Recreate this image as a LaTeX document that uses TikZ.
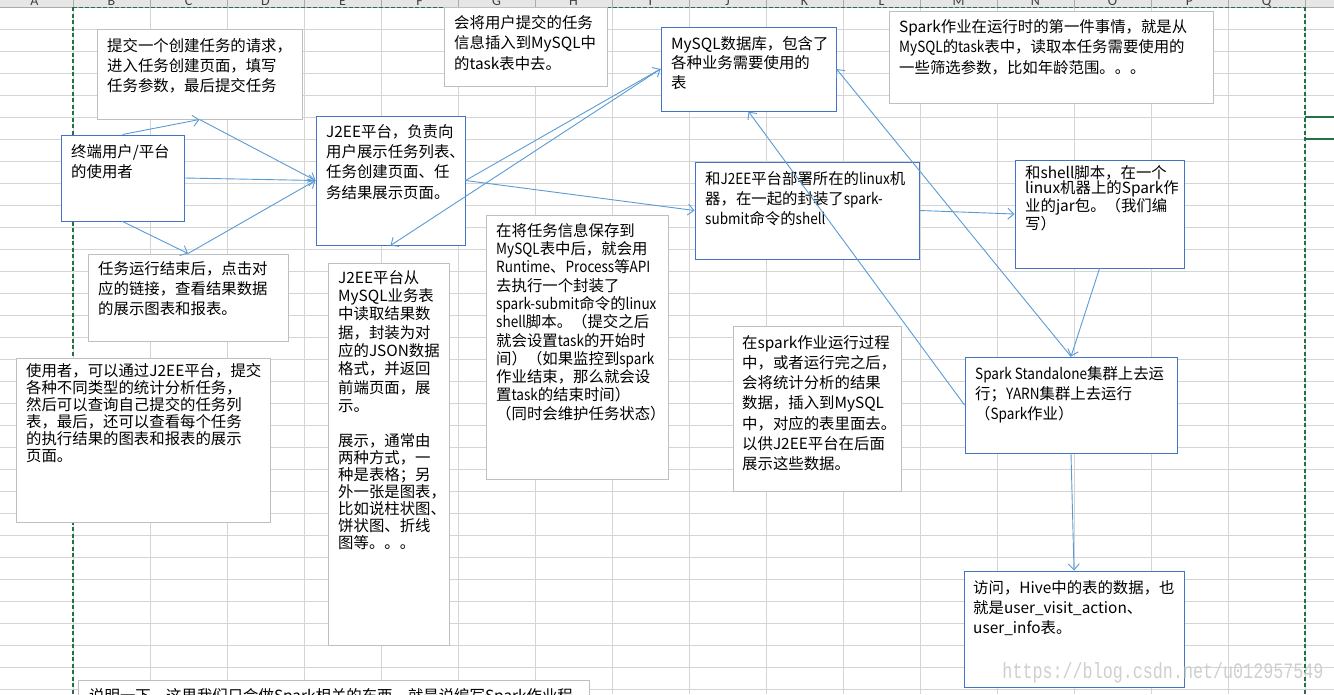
\documentclass[tikz,border=0pt]{standalone}
\usepackage{fontspec}
\usepackage{graphicx}
\setmainfont{Noto Sans CJK SC}
\newfontfamily\hdrfont{Carlito}
\newfontfamily\wmfont{Liberation Mono}
\usetikzlibrary{arrows.meta,calc}
\definecolor{gridc}{HTML}{D4D4D4}
\definecolor{hdrfill}{HTML}{E6E6E6}
\definecolor{hdrline}{HTML}{ABABAB}
\definecolor{xlgreen}{HTML}{217346}
\definecolor{boxgray}{HTML}{BFBFBF}
\definecolor{boxblue}{HTML}{4472C4}
\definecolor{arrowblue}{HTML}{5B9BD5}
\definecolor{wmgray}{HTML}{CFCFCF}
\newcommand\tlstrut{\rule{0pt}{14pt}}
\newcommand\lat[1]{\scalebox{0.88}[1]{#1}}
\begin{document}
\begin{tikzpicture}[x=1pt,y=-1pt,
  graybox/.style={draw=boxgray, line width=1pt, fill=white, rectangle, inner sep=0pt},
  bluebox/.style={draw=boxblue, line width=1pt, fill=white, rectangle, inner sep=0pt},
  txt/.style={anchor=north west, inner sep=0pt, align=left, text=black, font=\fontsize{15.4}{#1}\selectfont},
  conn/.style={draw=arrowblue, line width=0.9pt, -{Straight Barb[length=6pt,width=11pt]}},
  hdr/.style={anchor=base, inner sep=0pt, text=black!75, font=\hdrfont\fontsize{14}{14}\selectfont},
  xldash/.style={draw=xlgreen, line width=1.6pt, dash pattern=on 4pt off 2.5pt},
]
\useasboundingbox (0,0) rectangle (1334,694);
\clip (0,0) rectangle (1334,694);
\fill[white] (0,0) rectangle (1334,694);
% grid
\foreach \x in {-4,73,...,1382} \draw[gridc, line width=1pt] (\x,7) -- (\x,694);
\foreach \y in {7,29,...,689} \draw[gridc, line width=1pt] (0,\y) -- (1334,\y);
% header
\fill[hdrfill] (0,0) rectangle (1334,7);
\foreach \x in {-4,73,...,1382} \draw[hdrline, line width=1pt] (\x,0) -- (\x,7);
\draw[hdrline, line width=1pt] (0,7) -- (1334,7);
\foreach \l [count=\i from 0] in {A,B,C,D,E,F,G,H,I,J,K,L,M,N,O,P,Q,R}
  \node[hdr] (h\l) at (34.5+77*\i,5) {\l};
% page-break lines
\draw[xldash] (73,7) -- (73,694);
\draw[xldash] (1305,7) -- (1305,694);
\draw[draw=xlgreen, line width=1.1pt, dash pattern=on 4pt off 2pt] (73,7.5) -- (1305,7.5);
\draw[xlgreen, line width=1.6pt] (1305,117) -- (1334,117);
\draw[xlgreen, line width=1.6pt] (1305,139) -- (1334,139);

% boxes
\node[graybox, minimum width=205pt, minimum height=90pt] (b1) at (199.5,74) {};
\node[bluebox, minimum width=123pt, minimum height=86pt] (user) at (122.5,178) {};
\node[bluebox, minimum width=149pt, minimum height=129pt] (j2ee) at (390.5,180.5) {};
\node[graybox, minimum width=163pt, minimum height=79pt] (b4) at (525.5,46.5) {};
\node[bluebox, minimum width=175pt, minimum height=84pt] (mysql) at (748.5,69) {};
\node[graybox, minimum width=324pt, minimum height=92pt] (b6) at (1051,57) {};
\node[bluebox, minimum width=224pt, minimum height=97pt] (linux) at (807,210.5) {};
\node[bluebox, minimum width=169pt, minimum height=108pt] (shell) at (1099.5,214) {};
\node[graybox, minimum width=200pt, minimum height=87pt] (b9) at (188,297.5) {};
\node[graybox, minimum width=254pt, minimum height=164pt] (b10) at (143,440) {};
\node[graybox, minimum width=121pt, minimum height=382pt] (b11) at (388.5,454) {};
\node[graybox, minimum width=182pt, minimum height=264pt] (b12) at (577,347) {};
\node[graybox, minimum width=168pt, minimum height=165pt] (b13) at (817,408.5) {};
\node[bluebox, minimum width=212pt, minimum height=96pt] (spark) at (1071,405) {};
\node[bluebox, minimum width=220pt, minimum height=116pt] (hive) at (1074,629) {};
\node[graybox, minimum width=511pt, minimum height=40pt] (b16) at (333.5,700) {};

% texts
\node[txt=20] (t1) at (107,37) {\tlstrut 提交一个创建任务的请求，\\进入任务创建页面，填写\\任务参数，最后提交任务};
\node[txt=20] (tuser) at (71,143) {\tlstrut 终端用户/平台\\的使用者};
\node[txt=20.3] (tj2ee) at (326,123) {\tlstrut J2EE平台，负责向\\用户展示任务列表、\\任务创建页面、任\\务结果展示页面。};
\node[txt=20.5] (t4) at (454,14) {\tlstrut 会将用户提交的任务\\信息插入到MySQL中\\的task表中去。};
\node[txt=19.5] (tmysql) at (671,35) {\tlstrut MySQL数据库，包含了\\各种业务需要使用的\\表};
\node[txt=20.5] (t6) at (899,18) {\tlstrut Spark作业在运行时的第一件事情，就是从\\\lat{MySQL}的\lat{task}表中，读取本任务需要使用的\\一些筛选参数，比如年龄范围。。。};
\node[txt=20] (tlinux) at (705,170) {\tlstrut 和\lat{J2EE}平台部署所在的\lat{linux}机\\器，在一起的封装了\lat{spark-}\\\lat{submit}命令的\lat{shell}};
\node[txt=15.5] (tshell) at (1025,164) {\tlstrut 和shell脚本，在一个\\linux机器上的Spark作\\业的jar包。（我们编\\写）};
\node[txt=20] (t9) at (98,260) {\tlstrut 任务运行结束后，点击对\\应的链接，查看结果数据\\的展示图表和报表。};
\node[txt=17] (t10) at (26,362) {\tlstrut 使用者，可以通过J2EE平台，提交\\各种不同类型的统计分析任务，\\然后可以查询自己提交的任务列\\表，最后，还可以查看每个任务\\的执行结果的图表和报表的展示\\页面。};
\node[txt=18.3] (t11a) at (338,269) {\tlstrut J2EE平台从\\MySQL业务表\\中读取结果数\\据，封装为对\\应的JSON数据\\格式，并返回\\前端页面，展\\示。};
\node[txt=17] (t11b) at (338,432) {\tlstrut 展示，通常由\\两种方式，一\\种是表格；另\\外一张是图表，\\比如说柱状图、\\饼状图、折线\\图等。。。};
\node[txt=18.3] (t12) at (496,222) {\tlstrut 在将任务信息保存到\\\lat{MySQL}表中后，就会用\\\lat{Runtime}、\lat{Process}等\lat{API}\\去执行一个封装了\\\lat{spark-submit}命令的\lat{linux}\\\lat{shell}脚本。（提交之后\\就会设置\lat{task}的开始时\\间）（如果监控到\lat{spark}\\作业结束，那么就会设\\置\lat{task}的结束时间）\\（同时会维护任务状态）};
\node[txt=20.2] (t13) at (742,334) {\tlstrut 在spark作业运行过程\\中，或者运行完之后，\\会将统计分析的结果\\数据，插入到MySQL\\中，对应的表里面去。\\以供J2EE平台在后面\\展示这些数据。};
\node[txt=20] (tspark) at (975,365) {\tlstrut \lat{Spark Standalone}集群上去运\\行；\lat{YARN}集群上去运行\\（\lat{Spark}作业）};
\node[txt=20] (thive) at (973,579) {\tlstrut 访问，Hive中的表的数据，也\\就是user\_visit\_action、\\user\_info表。};
\node[txt=20] (t16) at (89,687) {\tlstrut 说明一下，这里我们只会做Spark相关的东西，就是说编写Spark作业程};

% connectors
\draw[conn] (user.north) -- (b1.south);
\draw[conn] (b1.south) -- (j2ee.west);
\draw[conn] (user.east) -- (j2ee.west);
\draw[conn] (user.south) -- (b9.north);
\draw[conn] (b9.north) -- (j2ee.west);
\draw[conn] (j2ee.east) -- (mysql.west);
\draw[conn] (mysql.west) -- (j2ee.south);
\draw[conn] (j2ee.east) -- (linux.west);
\draw[conn] (linux.east) -- (shell.west);
\draw[conn] (shell.south) -- (spark.north);
\draw[conn] (spark.north) -- (mysql.east);
\draw[conn] (spark.west) -- (mysql.south);
\draw[conn] (spark.south) -- (hive.north);

% watermark
\node[inner sep=0pt, text=wmgray, font=\wmfont\fontsize{22}{22}\selectfont] (wm) at (1163,673) {\scalebox{0.76}[1]{https://blog.csdn.net/u012957549}};
\end{tikzpicture}
\end{document}
